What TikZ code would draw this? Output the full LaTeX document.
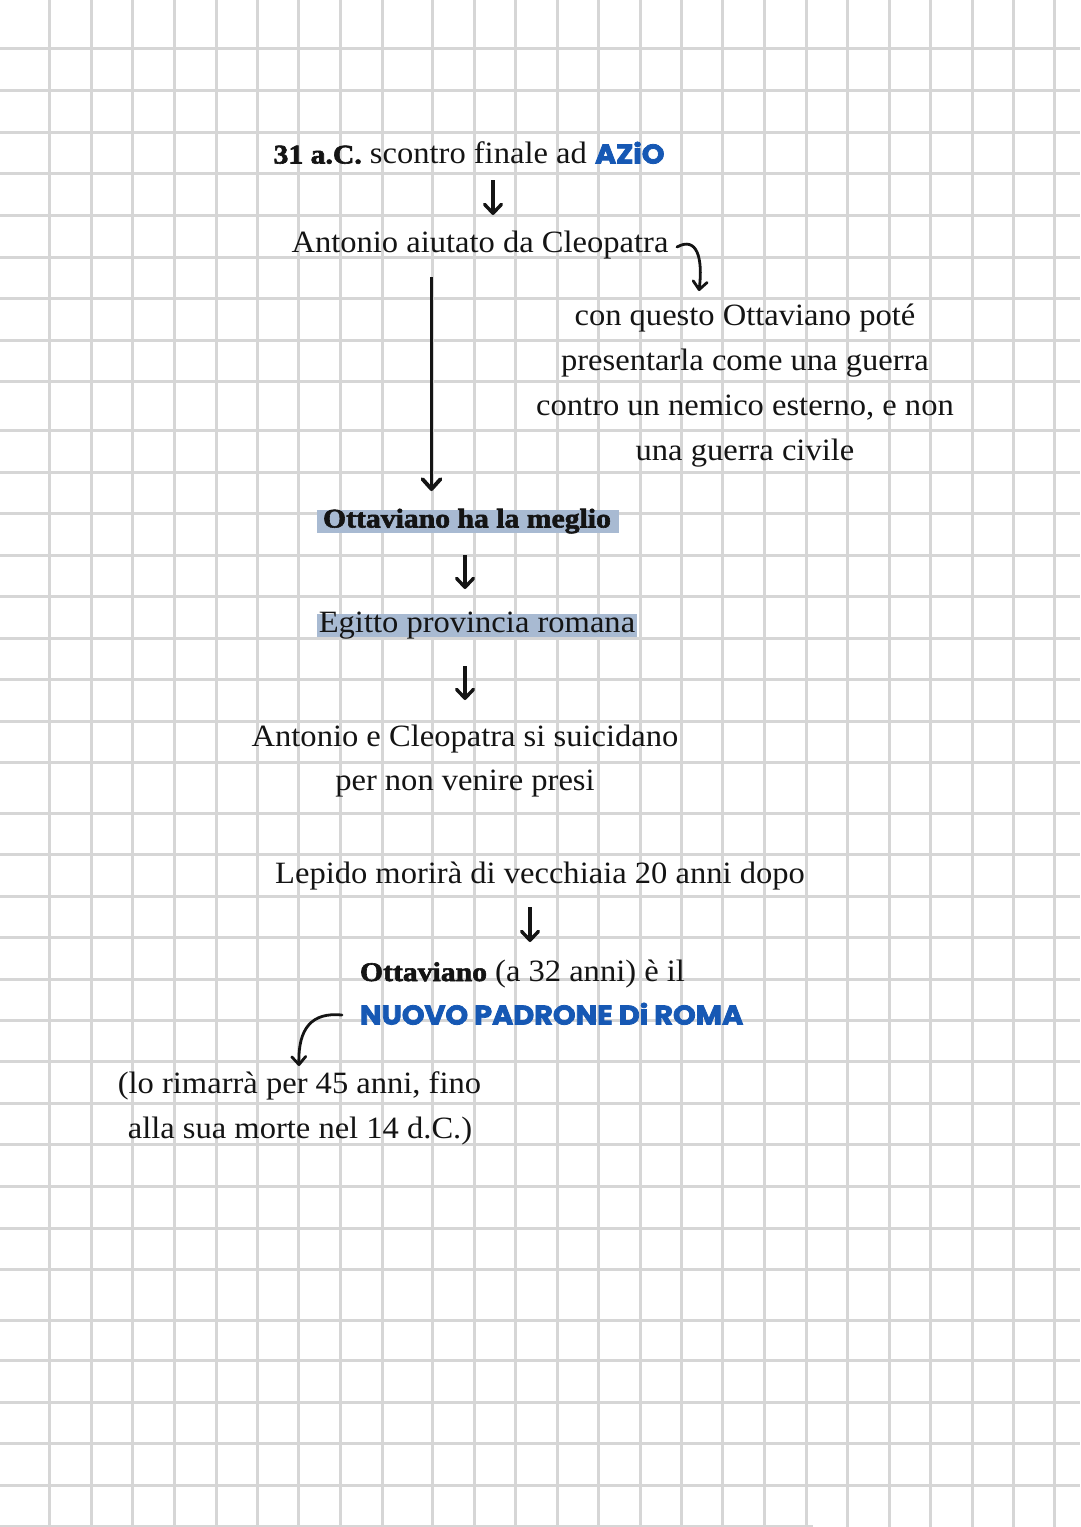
\documentclass[tikz,border=0pt]{standalone}
\usepackage{fontspec}
\setmainfont{Liberation Serif}
\usetikzlibrary{arrows.meta}
\newfontfamily\bodyfont[FakeStretch=1.05]{Liberation Serif}
\newfontfamily\heavyfont[FakeStretch=1.1,FakeBold=2.2]{Liberation Serif Bold}
\newfontfamily\dispfont[FakeStretch=1.065,FakeBold=3]{Poppins}
\definecolor{ink}{RGB}{20,20,20}
\definecolor{azure}{RGB}{22,88,180}
\definecolor{hilite}{RGB}{168,186,210}
\definecolor{gridc}{RGB}{214,214,214}
\newcommand\hvtext[1]{{\heavyfont\fontsize{27}{32}\selectfont #1}}
\newcommand\dstext[1]{{\dispfont\bfseries\fontsize{27}{32}\selectfont\color{azure}#1}}
\tikzset{
  gridline/.style={draw=gridc, line width=3pt},
  txt/.style={inner sep=0pt, outer sep=0pt, text=ink, anchor=base,
    font=\bodyfont\fontsize{31}{37}\selectfont},
  heavytxt/.style={txt, font=\heavyfont\fontsize{27}{32}\selectfont},
  disptxt/.style={txt, text=azure, font=\dispfont\bfseries\fontsize{27}{32}\selectfont},
  shortarrow/.style={draw=ink, line width=3.4pt, -{Straight Barb[length=9pt,width=17pt,round]}},
  longarrow/.style={draw=ink, line width=3.8pt, -{Straight Barb[length=10pt,width=18pt,round]}},
  curvarrow/.style={draw=ink, line width=2.8pt, line cap=round, -{Straight Barb[length=8pt,width=14pt,round]}},
}
\begin{document}
\begin{tikzpicture}[x=1pt,y=-1pt]
\useasboundingbox (0,0) rectangle (1080,1527);
\fill[white] (0,0) rectangle (1080,1527);
% grid
\foreach \gx in {49,91,132,174,216,257,298,340,382,432,474,515,557,598,640,681,722,764,806,847,889,930,972,1013,1054}
  \draw[gridline] (\gx,0) -- (\gx,1527);
\foreach \gy in {48,90,132,173,215,257,298,340,381,430,472,513,555,596,638,679,721,762,813,854,896,937,979,1020,1061,1103,1144,1186,1228,1269,1320,1360,1402,1443,1485}
  \draw[gridline] (0,\gy) -- (1080,\gy);
\draw[gridline] (0,1526) -- (813,1526);
% highlights
\fill[hilite] (316.5,509.5) rectangle (618.5,533);
\fill[hilite] (317,614) rectangle (637,637);
% texts
\node[txt] (l1) at (469,163.5) {\hvtext{31 a.C.} scontro finale ad \dstext{AZiO}};
\node[txt] (l2) at (480,252) {Antonio aiutato da Cleopatra};
\node[txt] (p1) at (745,325) {con questo Ottaviano poté};
\node[txt] (p2) at (745,370) {presentarla come una guerra};
\node[txt] (p3) at (745,415.5) {contro un nemico esterno, e non};
\node[txt] (p4) at (745,460) {una guerra civile};
\node[heavytxt] (l3) at (467,527.5) {Ottaviano ha la meglio};
\node[txt] (l4) at (477,632) {Egitto provincia romana};
\node[txt] (l5) at (465,746) {Antonio e Cleopatra si suicidano};
\node[txt] (l6) at (465,790) {per non venire presi};
\node[txt] (l7) at (540,883) {Lepido morirà di vecchiaia 20 anni dopo};
\node[txt, anchor=base west] (l8) at (360,981) {\hvtext{Ottaviano} (a 32 anni) è il};
\node[disptxt, anchor=base west] (l9) at (360,1024.5) {NUOVO PADRONE Di ROMA};
\node[txt] (l10) at (299.5,1093.5) {(lo rimarrà per 45 anni, fino};
\node[txt] (l11) at (300,1138.5) {alla sua morte nel 14 d.C.)};
% arrow end points
\coordinate (a1s) at (493,180); \coordinate (a1e) at (493,215);
\coordinate (a2s) at (465,555); \coordinate (a2e) at (465,589);
\coordinate (a3s) at (465,666); \coordinate (a3e) at (465,700);
\coordinate (a4s) at (530,907); \coordinate (a4e) at (530,942);
\coordinate (bs) at (431.5,277); \coordinate (be) at (431.5,491);
\coordinate (c1s) at (677,247); \coordinate (c1e) at (699,291);
\coordinate (c2s) at (342,1015); \coordinate (c2e) at (299,1066);
% arrows
\draw[shortarrow] (a1s) -- (a1e);
\draw[shortarrow] (a2s) -- (a2e);
\draw[shortarrow] (a3s) -- (a3e);
\draw[shortarrow] (a4s) -- (a4e);
\draw[longarrow] (bs) -- (be);
\draw[curvarrow] (c1s) .. controls (697,236) and (703,258) .. (c1e);
\draw[curvarrow] (c2s) .. controls (312,1012) and (298,1028) .. (c2e);
\end{tikzpicture}
\end{document}
